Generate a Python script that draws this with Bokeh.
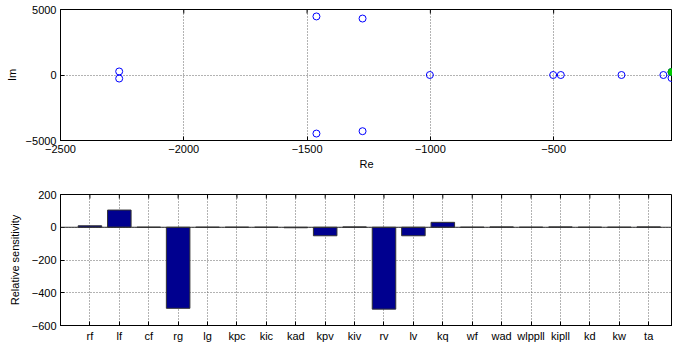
from bokeh.plotting import figure
from bokeh.layouts import column
from bokeh.models import FixedTicker, Span, Range1d
from bokeh.embed import file_html
from bokeh.resources import INLINE

# Pole map data (real, imaginary)
pole_re = [-2262, -2262, -1462, -1462, -1275, -1275, -1002, -502, -471, -225, -55, -22, -22]
pole_im = [270, -270, 4470, -4470, 4310, -4290, 0, 0, 0, 0, 0, 230, -230]
green_re = [-22]
green_im = [230]

re_ticks = [-2500, -2000, -1500, -1000, -500, 0]
im_ticks = [-5000, 0, 5000]

# Sensitivity data
cats = ["rf", "lf", "cf", "rg", "lg", "kpc", "kic", "kad", "kpv", "kiv",
        "rv", "lv", "kq", "wf", "wad", "wlppll", "kipll", "kd", "kw", "ta"]
sens = [9, 105, 0, -495, 0, 0, 0, -3, -52, 2,
        -500, -52, 30, 0, 2, 0, 2, 0, 0, 2]
sens_ticks = [-600, -400, -200, 0, 200]

FONT = "Liberation Sans"
FS = "11px"
FRAME_H = 131
TICK_PX = 4


def style_axis(ax):
    ax.axis_line_color = "black"
    ax.major_tick_in = TICK_PX
    ax.major_tick_out = 0
    ax.minor_tick_line_color = None
    ax.major_tick_line_color = "black"
    ax.major_label_text_font = FONT
    ax.major_label_text_font_size = FS
    ax.major_label_text_color = "black"
    ax.axis_label_text_font = FONT
    ax.axis_label_text_font_size = FS
    ax.axis_label_text_font_style = "normal"
    ax.axis_label_text_color = "black"
    ax.major_label_standoff = 4


def style(p):
    p.outline_line_color = "black"
    p.outline_line_width = 1
    for ax in p.xaxis + p.yaxis:
        style_axis(ax)
    for g in (p.xgrid, p.ygrid):
        g.grid_line_color = "#666666"
        g.grid_line_dash = "1 2"
        g.grid_line_width = 1


def top_ticks(p, ticks):
    # inward tick marks along the top edge of the box (no labels)
    yr = p.y_range
    ln = TICK_PX * (yr.end - yr.start) / FRAME_H
    p.segment(x0=ticks, y0=[yr.end] * len(ticks), x1=ticks,
              y1=[yr.end - ln] * len(ticks), line_color="black", line_width=1)


p1 = figure(width=672, height=173, output_backend="svg", toolbar_location=None,
            x_range=Range1d(-2500, -18), y_range=Range1d(-5000, 5000),
            min_border_left=60, min_border_right=0, min_border_top=9,
            min_border_bottom=33)
p1.xaxis.ticker = FixedTicker(ticks=re_ticks)
p1.yaxis.ticker = FixedTicker(ticks=im_ticks)
p1.xaxis.axis_label = "Re"
p1.yaxis.axis_label = "Im"
style(p1)
p1.xaxis[0].axis_label_standoff = 2
top_ticks(p1, re_ticks)
p1.scatter(pole_re, pole_im, marker="circle", size=7, fill_color=None,
           line_color="#0000FF", line_width=1)
p1.scatter(green_re, green_im, marker="circle", size=7, fill_color="#00CC00",
           line_color="#00AA00", line_width=1)

xs = [i + 1 for i in range(len(cats))]
p2 = figure(width=672, height=171, output_backend="svg", toolbar_location=None,
            x_range=Range1d(0, 20.81), y_range=Range1d(-600, 200),
            min_border_left=60, min_border_right=0, min_border_top=21,
            min_border_bottom=19)
p2.xaxis.ticker = FixedTicker(ticks=xs)
p2.xaxis.major_label_overrides = {x: c for x, c in zip(xs, cats)}
p2.yaxis.ticker = FixedTicker(ticks=sens_ticks)
p2.yaxis.axis_label = "Relative sensitivity"
style(p2)
p2.yaxis[0].axis_label_standoff = 8
top_ticks(p2, xs)
p2.vbar(x=xs, top=sens, bottom=0, width=0.8, fill_color="#00008F",
        line_color="#333333", line_width=1)
p2.add_layout(Span(location=0, dimension="width", line_color="#333333", line_width=1))

layout = column(p1, p2, spacing=0)
open("out.html", "w").write(file_html(layout, INLINE))
